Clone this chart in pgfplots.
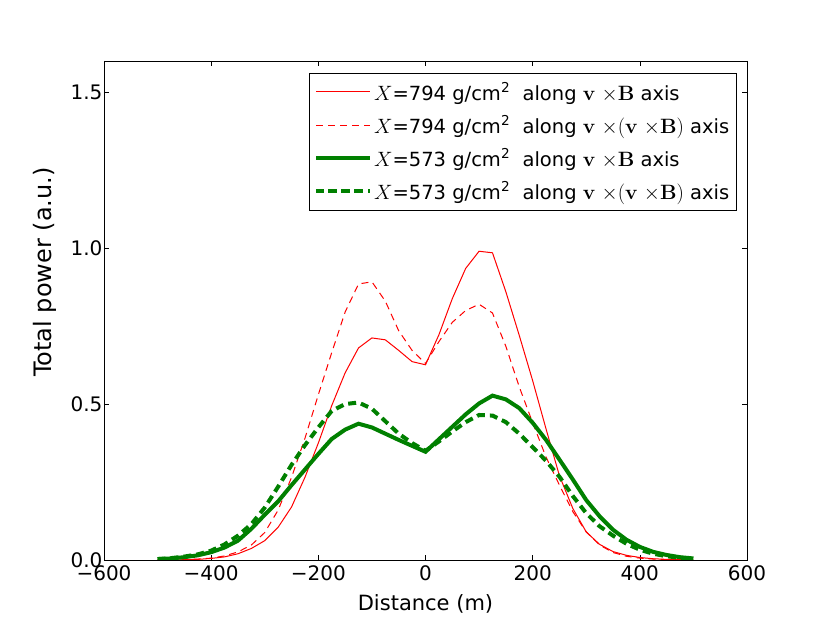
\documentclass[border=0pt]{standalone}
\usepackage[no-math]{fontspec}
\setmainfont{DejaVu Sans}
\usepackage{pgfplots}
\pgfplotsset{compat=1.18}
\definecolor{mplgreen}{rgb}{0,0.5,0}
\pgfplotstableread{
x r1 r2 g1 g2
-500 0.000 0.000 0.003 0.003
-475 0.000 0.000 0.005 0.006
-450 0.001 0.001 0.009 0.011
-425 0.002 0.003 0.015 0.018
-400 0.005 0.006 0.025 0.030
-375 0.010 0.013 0.040 0.050
-350 0.020 0.026 0.062 0.078
-325 0.037 0.048 0.100 0.115
-300 0.062 0.088 0.145 0.168
-275 0.105 0.160 0.188 0.235
-250 0.170 0.265 0.240 0.305
-225 0.265 0.390 0.290 0.368
-200 0.375 0.530 0.340 0.425
-175 0.495 0.665 0.388 0.478
-150 0.600 0.795 0.418 0.500
-125 0.680 0.885 0.437 0.505
-100 0.712 0.892 0.425 0.485
-75 0.706 0.830 0.405 0.445
-50 0.672 0.735 0.385 0.405
-25 0.636 0.672 0.366 0.375
0 0.626 0.630 0.347 0.350
25 0.722 0.700 0.387 0.380
50 0.838 0.762 0.427 0.412
75 0.935 0.800 0.467 0.442
100 0.990 0.820 0.502 0.465
125 0.985 0.792 0.527 0.463
150 0.860 0.685 0.515 0.442
175 0.720 0.555 0.487 0.405
200 0.575 0.440 0.440 0.362
225 0.420 0.330 0.385 0.318
250 0.270 0.240 0.322 0.267
275 0.165 0.155 0.258 0.205
300 0.090 0.090 0.192 0.150
325 0.050 0.048 0.140 0.108
350 0.027 0.024 0.097 0.078
375 0.015 0.012 0.065 0.052
400 0.008 0.006 0.042 0.033
425 0.004 0.003 0.026 0.020
450 0.002 0.001 0.016 0.012
475 0.001 0.000 0.009 0.007
500 0.000 0.000 0.005 0.004
}\datatable
\newcommand{\vxB}{$\mathbf{v}\ {\times}\mathbf{B}$}
\newcommand{\vxvxB}{$\mathbf{v}\ {\times}(\mathbf{v}\ {\times}\mathbf{B})$}
\begin{document}
\begin{tikzpicture}
\useasboundingbox (-104pt,-63pt) rectangle (726pt,560pt);
\begin{axis}[
  at={(0pt,0pt)}, anchor=south west,
  width=643pt, height=499pt, scale only axis,
  xmin=-600, xmax=600, ymin=0, ymax=1.6,
  xtick={-600,-400,-200,0,200,400,600},
  xticklabels={−600,−400,−200,0,200,400,600},
  ytick={0,0.5,1,1.5},
  yticklabels={0.0,0.5,1.0,1.5},
  minor tick num=0,
  tick align=inside,
  major tick length=5pt,
  tick style={black, line width=0.6pt},
  axis line style={line width=0.8pt},
  ticklabel style={font=\fontsize{20}{24}\selectfont},
  xticklabel style={yshift=-2pt},
  yticklabel style={xshift=2pt},
  xlabel={Distance (m)},
  ylabel={Total power (a.u.)},
  xlabel style={font=\fontsize{21}{25}\selectfont, yshift=-7pt},
  ylabel style={font=\fontsize{24}{28}\selectfont, at={(ticklabel cs:0.577)}, yshift=7pt},
  legend style={at={(0.984,0.976)}, anchor=north east, draw=black, line width=0.8pt,
    fill=white, font=\fontsize{19.5}{23}\selectfont, row sep=10pt, inner xsep=5pt, inner ysep=7pt},
  legend cell align=left,
  legend image code/.code={\path (-12pt,0pt) -- (42pt,0pt); \draw[#1] (0pt,0pt) -- (32pt,0pt);},
]
\addplot[draw=red, line width=1pt] table[x=x, y=r1] {\datatable};
\addlegendentry{$X$=794 g/cm\textsuperscript{2}\ \ along \vxB\ axis}
\addplot[draw=red, line width=1pt, dash pattern=on 7pt off 5pt] table[x=x, y=r2] {\datatable};
\addlegendentry{$X$=794 g/cm\textsuperscript{2}\ \ along \vxvxB\ axis}
\addplot[draw=mplgreen, line width=4pt] table[x=x, y=g1] {\datatable};
\addlegendentry{$X$=573 g/cm\textsuperscript{2}\ \ along \vxB\ axis}
\addplot[draw=mplgreen, line width=4pt, dash pattern=on 8pt off 5pt] table[x=x, y=g2] {\datatable};
\addlegendentry{$X$=573 g/cm\textsuperscript{2}\ \ along \vxvxB\ axis}
\end{axis}
\end{tikzpicture}
\end{document}
